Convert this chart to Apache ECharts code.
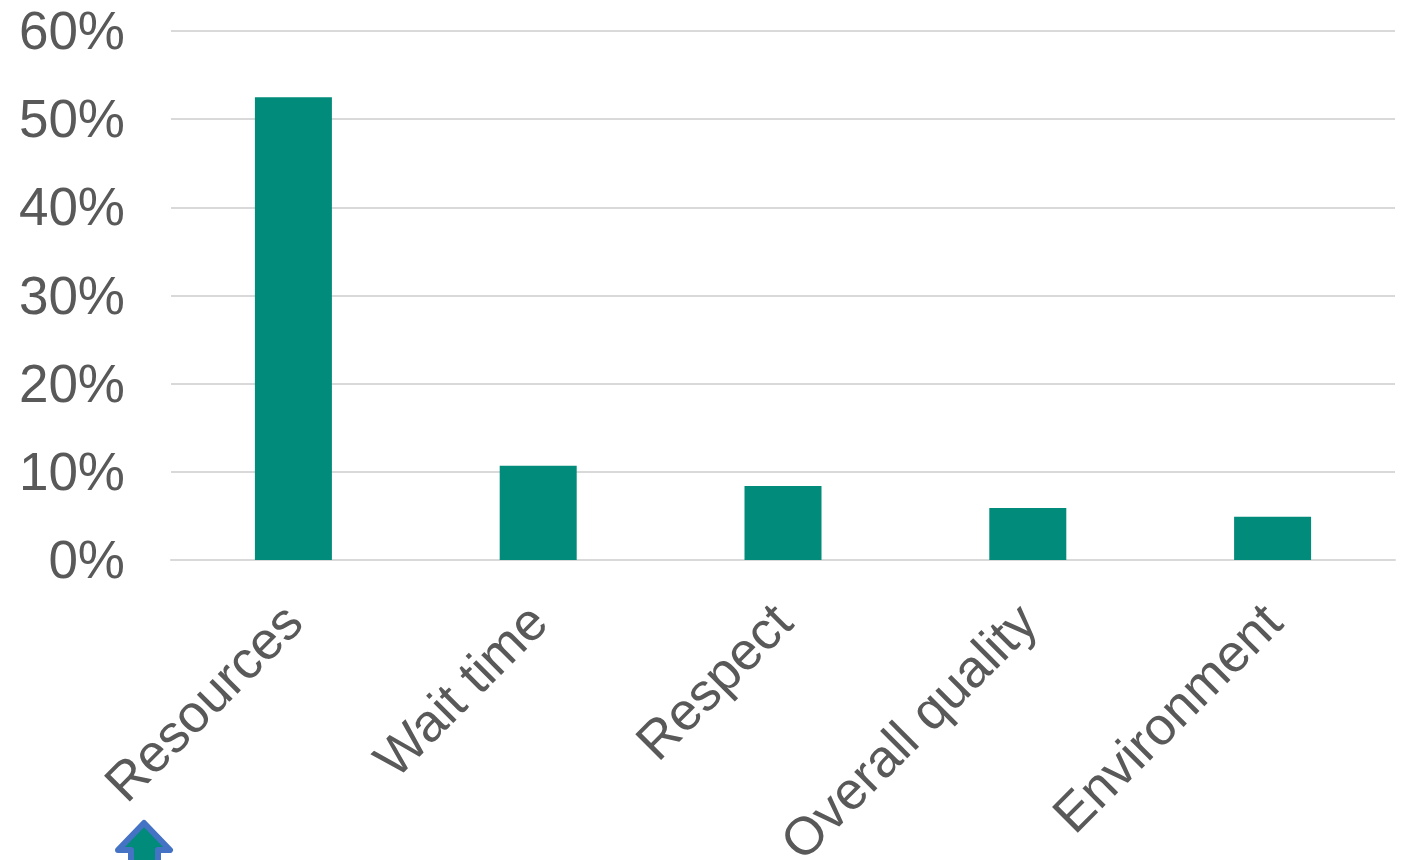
<!DOCTYPE html>
<html><head><meta charset="utf-8"><style>html,body{margin:0;padding:0;background:#fff}#c{width:1405px;height:860px}</style>
<script src="https://cdn.jsdelivr.net/npm/echarts@6/dist/echarts.min.js"></script></head>
<body><div id="c"></div><script>
const categories=['Resources','Wait time','Respect','Overall quality','Environment'];
const values=[52.5,10.7,8.4,5.9,4.9];
const yTicks=[0,10,20,30,40,50,60];
const chart=echarts.init(document.getElementById('c'),null,{renderer:'canvas'});
const font={fontFamily:'Liberation Sans',fontSize:53,color:'#595959'};
chart.setOption({animation:false,
grid:{left:171,right:10,top:31,height:529,containLabel:false,outerBoundsMode:'none'},
xAxis:{type:'category',data:categories,axisLine:{show:true,lineStyle:{color:'#d9d9d9',width:2}},axisTick:{show:false},
axisLabel:{rotate:45,...font,margin:53,interval:0,formatter:v=>'{t|'+v+'}',rich:{t:{...font,padding:[6,0,0,0]}}}},
yAxis:{type:'value',min:0,max:60,interval:10,axisLine:{show:false},axisTick:{show:false},
axisLabel:{...font,margin:46,formatter:v=>'{t|'+v+'%}',rich:{t:{...font,padding:[7,0,0,0]}}},
splitLine:{lineStyle:{color:'#d9d9d9',width:2}}},
series:[{type:'bar',data:values,barWidth:77,itemStyle:{color:'#008b7a'}}],
graphic:[{type:'polygon',shape:{points:[[144,823],[170,850],[158,850],[158,875],[131,875],[131,850],[118,850]]},style:{fill:'#008b7a',stroke:'#4472c4',lineWidth:6,lineJoin:'round'}}]
});
</script></body></html>
